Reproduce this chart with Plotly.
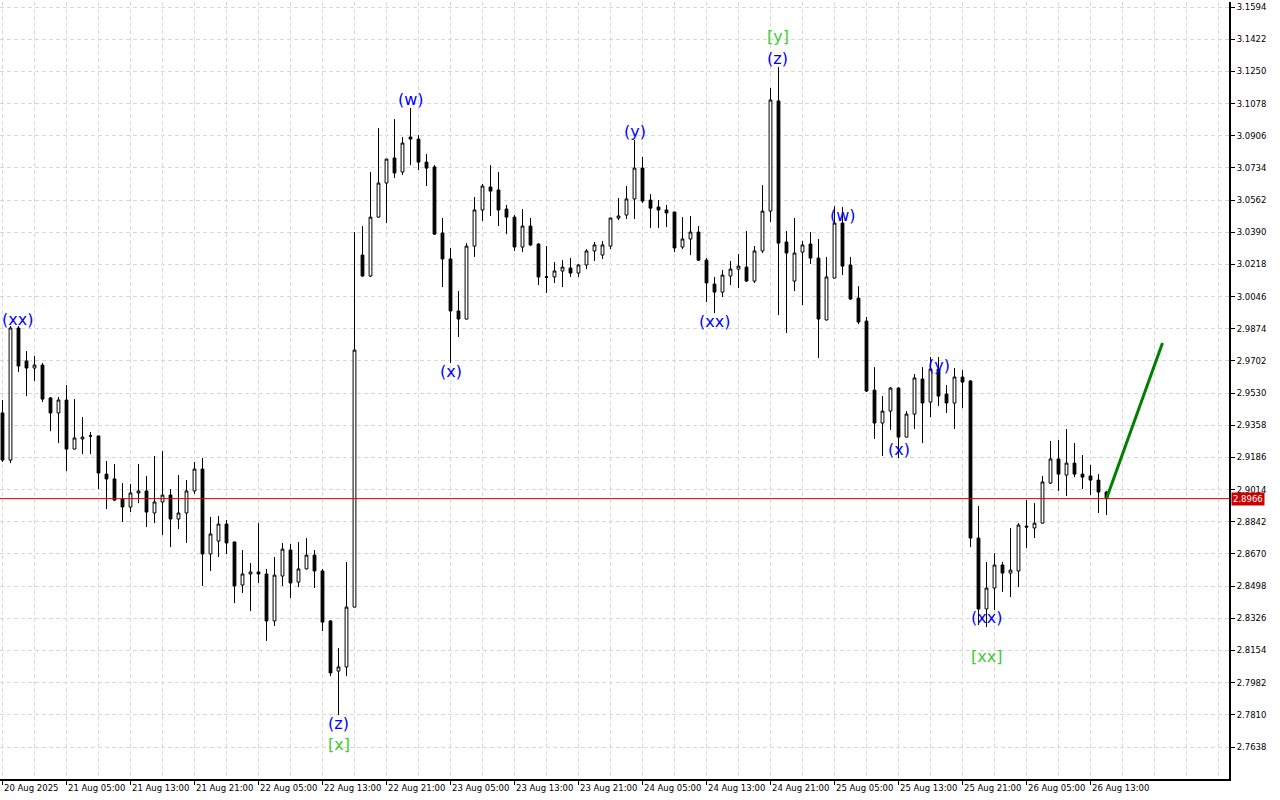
import plotly.graph_objects as go
import pandas as pd

opens = [2.9424, 2.9172, 2.9878, 2.9702, 2.9664, 2.9680, 2.9504, 2.9424, 2.9493, 2.9231,
         2.9285, 2.9300, 2.9301, 2.9097, 2.9071, 2.8964, 2.8921, 2.8996, 2.9007, 2.8889,
         2.8948, 2.8985, 2.8857, 2.8889, 2.9007, 2.9124, 2.8670, 2.8739, 2.8830, 2.8734,
         2.8504, 2.8563, 2.8574, 2.8563, 2.8312, 2.8552, 2.8691, 2.8520, 2.8590, 2.8664,
         2.8579, 2.8312, 2.8044, 2.8066, 2.8386, 3.0268, 3.0156, 3.0471, 3.0653, 3.0787,
         3.0712, 3.0899, 3.0888, 3.0765, 3.0739, 3.0386, 3.0247, 2.9969, 2.9926, 3.0316,
         3.0509, 3.0632, 3.0616, 3.0514, 3.0471, 3.0311, 3.0423, 3.0327, 3.0152, 3.0151,
         3.0183, 3.0199, 3.0172, 3.0215, 3.0290, 3.0268, 3.0316, 3.0466, 3.0482, 3.0568,
         3.0733, 3.0562, 3.0525, 3.0509, 3.0498, 3.0311, 3.0354, 3.0391, 3.0241, 3.0113,
         3.0070, 3.0156, 3.0193, 3.0204, 3.0129, 3.0290, 3.0503, 3.1092, 3.0338, 3.0129,
         3.0284, 3.0327, 3.0252, 2.9921, 3.0145, 3.0439, 3.0215, 3.0038, 2.9915, 2.9546,
         2.9370, 2.9434, 2.9557, 2.9295, 2.9418, 2.9605, 2.9482, 2.9659, 2.9525, 2.9477,
         2.9616, 2.9595, 2.8755, 2.8376, 2.8488, 2.8611, 2.8568, 2.8579, 2.8819, 2.8809,
         2.8835, 2.9049, 2.9178, 2.9092, 2.9156, 2.9097, 2.9087, 2.9065, 2.9001]

highs = [2.9493, 2.9889, 2.9889, 2.9755, 2.9728, 2.9691, 2.9509, 2.9509, 2.9573, 2.9498,
         2.9402, 2.9322, 2.9302, 2.9167, 2.9151, 2.9049, 2.9044, 2.9151, 2.9087, 2.9194,
         2.9220, 2.9017, 2.9092, 2.9065, 2.9162, 2.9183, 2.8868, 2.8873, 2.8852, 2.8736,
         2.8691, 2.8622, 2.8835, 2.8590, 2.8654, 2.8729, 2.8723, 2.8734, 2.8755, 2.8691,
         2.8590, 2.8317, 2.8167, 2.8627, 3.0391, 3.0423, 3.0712, 3.0947, 3.0783, 3.0995,
         3.0899, 3.1054, 3.0910, 3.0808, 3.0749, 3.0466, 3.0306, 3.0076, 3.0332, 3.0578,
         3.0648, 3.0749, 3.0712, 3.0536, 3.0482, 3.0514, 3.0466, 3.0332, 3.0316, 3.0231,
         3.0241, 3.0252, 3.0220, 3.0300, 3.0338, 3.0343, 3.0468, 3.0573, 3.0637, 3.0883,
         3.0792, 3.0594, 3.0562, 3.0536, 3.0500, 3.0471, 3.0477, 3.0423, 3.0252, 3.0151,
         3.0188, 3.0236, 3.0274, 3.0397, 3.0316, 3.0642, 3.1161, 3.1273, 3.0397, 3.0466,
         3.0343, 3.0391, 3.0354, 3.0258, 3.0530, 3.0525, 3.0258, 3.0102, 2.9937, 2.9669,
         2.9514, 2.9563, 2.9563, 2.9434, 2.9632, 2.9669, 2.9723, 2.9723, 2.9573, 2.9664,
         2.9653, 2.9600, 2.8926, 2.8627, 2.8675, 2.8627, 2.8809, 2.8835, 2.8958, 2.8942,
         2.9087, 2.9274, 2.9279, 2.9338, 2.9263, 2.9199, 2.9146, 2.9097, 2.9007]

lows = [2.9162, 2.9156, 2.9643, 2.9514, 2.9595, 2.9482, 2.9327, 2.9263, 2.9113, 2.9229,
        2.9204, 2.9204, 2.9017, 2.8910, 2.8953, 2.8841, 2.8894, 2.8942, 2.8814, 2.8835,
        2.8771, 2.8707, 2.8803, 2.8729, 2.8991, 2.8499, 2.8579, 2.8654, 2.8670, 2.8408,
        2.8461, 2.8365, 2.8515, 2.8205, 2.8285, 2.8499, 2.8435, 2.8493, 2.8588, 2.8488,
        2.8258, 2.8017, 2.7809, 2.8017, 2.8384, 3.0151, 3.0151, 3.0469, 3.0439, 3.0680,
        3.0696, 3.0749, 3.0723, 3.0637, 3.0378, 3.0097, 2.9691, 2.9830, 2.9924, 3.0258,
        3.0450, 3.0477, 3.0423, 3.0380, 3.0290, 3.0284, 3.0316, 3.0108, 3.0065, 3.0119,
        3.0097, 3.0151, 3.0151, 3.0193, 3.0236, 3.0247, 3.0300, 3.0455, 3.0461, 3.0461,
        3.0546, 3.0413, 3.0413, 3.0418, 3.0284, 3.0300, 3.0268, 3.0236, 3.0017, 2.9958,
        3.0044, 3.0108, 3.0092, 3.0124, 3.0119, 3.0279, 3.0445, 2.9947, 2.9851, 3.0076,
        3.0001, 3.0220, 2.9718, 2.9919, 3.0143, 3.0161, 3.0028, 2.9899, 2.9536, 2.9285,
        2.9194, 2.9333, 2.9183, 2.9293, 2.9338, 2.9263, 2.9402, 2.9461, 2.9424, 2.9338,
        2.9450, 2.8707, 2.8290, 2.8279, 2.8370, 2.8467, 2.8440, 2.8493, 2.8702, 2.8755,
        2.8833, 2.9044, 2.9007, 2.8980, 2.9081, 2.9017, 2.8985, 2.8889, 2.8878]

closes = [2.9172, 2.9878, 2.9675, 2.9664, 2.9680, 2.9498, 2.9424, 2.9493, 2.9231, 2.9290,
          2.9295, 2.9302, 2.9103, 2.9071, 2.8958, 2.8921, 2.8996, 2.9007, 2.8894, 2.8948,
          2.8985, 2.8857, 2.8889, 2.9007, 2.9124, 2.8670, 2.8777, 2.8830, 2.8729, 2.8499,
          2.8563, 2.8574, 2.8563, 2.8312, 2.8557, 2.8696, 2.8515, 2.8590, 2.8664, 2.8579,
          2.8306, 2.8034, 2.8066, 2.8386, 2.9760, 3.0156, 3.0471, 3.0653, 3.0781, 3.0707,
          3.0867, 3.0888, 3.0765, 3.0733, 3.0380, 3.0247, 2.9969, 2.9926, 3.0316, 3.0509,
          3.0637, 3.0610, 3.0509, 3.0471, 3.0311, 3.0423, 3.0322, 3.0151, 3.0150, 3.0183,
          3.0204, 3.0172, 3.0215, 3.0290, 3.0322, 3.0322, 3.0466, 3.0477, 3.0568, 3.0733,
          3.0557, 3.0519, 3.0509, 3.0493, 3.0306, 3.0354, 3.0391, 3.0241, 3.0119, 3.0070,
          3.0161, 3.0193, 3.0209, 3.0129, 3.0290, 3.0503, 3.1097, 3.0332, 3.0279, 3.0279,
          3.0322, 3.0252, 2.9926, 3.0151, 3.0439, 3.0209, 3.0033, 2.9910, 2.9541, 2.9370,
          2.9434, 2.9557, 2.9295, 2.9418, 2.9611, 2.9477, 2.9659, 2.9514, 2.9477, 2.9616,
          2.9589, 2.8755, 2.8376, 2.8488, 2.8611, 2.8568, 2.8584, 2.8825, 2.8814, 2.8835,
          2.9055, 2.9178, 2.9097, 2.9156, 2.9097, 2.9081, 2.9065, 2.9001, 2.8966]

assert len(opens) == len(highs) == len(lows) == len(closes) == 139

start_time = pd.Timestamp("2025-08-20 21:00")
times = [start_time + pd.Timedelta(hours=i) for i in range(len(opens))]
bars = list(range(len(opens)))

x_tick_bars = list(range(0, 137, 8))
x_tick_labels = ["20 Aug 2025", "21 Aug 05:00", "21 Aug 13:00", "21 Aug 21:00",
                 "22 Aug 05:00", "22 Aug 13:00", "22 Aug 21:00", "23 Aug 05:00",
                 "23 Aug 13:00", "23 Aug 21:00", "24 Aug 05:00", "24 Aug 13:00",
                 "24 Aug 21:00", "25 Aug 05:00", "25 Aug 13:00", "25 Aug 21:00",
                 "26 Aug 05:00", "26 Aug 13:00"]

y_tick_labels = ["2.7638", "2.7810", "2.7982", "2.8154", "2.8326", "2.8498", "2.8670",
                 "2.8842", "2.9014", "2.9186", "2.9358", "2.9530", "2.9702", "2.9874",
                 "3.0046", "3.0218", "3.0390", "3.0562", "3.0734", "3.0906", "3.1078",
                 "3.1250", "3.1422", "3.1594"]
y_tick_values = [float(t) for t in y_tick_labels]

current_price = 2.8966
projection_bars = [138, 145]
projection_prices = [2.8966, 2.9798]

# wave labels: text, bar position, price position, colour group
wave_texts = ["(xx)", "(z)", "[x]", "(w)", "(x)", "(y)", "(xx)", "[y]", "(z)",
              "(w)", "(x)", "(y)", "(xx)", "[xx]"]
wave_bars = [1.9, 42.0, 42.0, 51.0, 56.0, 79.0, 89.0, 96.9, 96.9,
             105.0, 112.0, 117.0, 123.0, 123.0]
wave_prices = [2.9921, 2.7766, 2.7649, 3.1102, 2.9643, 3.0931, 2.9915, 3.1434, 3.1321,
               3.0482, 2.9231, 2.9680, 2.8328, 2.8124]
wave_groups = ["minor", "minor", "major", "minor", "minor", "minor", "minor", "major", "minor",
               "minor", "minor", "minor", "minor", "major"]
group_colors = {"minor": "#0000ff", "major": "#3ccc32"}

GRID = "#d8d8d8"
DASH = "4px,3px"
TICK_FONT = dict(family="DejaVu Sans", size=8.5, color="#000000")

fig = go.Figure()

fig.add_trace(go.Candlestick(
    x=bars, open=opens, high=highs, low=lows, close=closes,
    customdata=[t.strftime("%d %b %H:%M") for t in times],
    increasing=dict(line=dict(color="#000000", width=1), fillcolor="#ffffff"),
    decreasing=dict(line=dict(color="#000000", width=1), fillcolor="#000000"),
    whiskerwidth=0, showlegend=False,
))

fig.add_trace(go.Scatter(
    x=projection_bars, y=projection_prices, mode="lines",
    line=dict(color="#008000", width=3), showlegend=False, hoverinfo="skip",
))

fig.add_shape(type="line", xref="paper", x0=0, x1=1, yref="y",
              y0=current_price, y1=current_price,
              line=dict(color="#dd0000", width=1), layer="above")

for txt, b, p, g in zip(wave_texts, wave_bars, wave_prices, wave_groups):
    fig.add_annotation(x=b, y=p, text=txt, showarrow=False,
                       xanchor="center", yanchor="middle",
                       font=dict(family="DejaVu Sans", size=16, color=group_colors[g]))

fig.add_annotation(xref="paper", x=1, y=current_price, text=f"{current_price:.4f}",
                   showarrow=False, xanchor="left", yanchor="middle", xshift=2,
                   bgcolor="#cc0000", borderpad=1,
                   font=dict(family="DejaVu Sans", size=8.5, color="#ffffff"))

y_bottom = 2.7467
y_top = 3.1621

fig.update_layout(
    width=1280, height=800,
    margin=dict(l=0, r=51, t=2, b=21, autoexpand=False),
    paper_bgcolor="#ffffff", plot_bgcolor="#ffffff",
    boxgap=0.5,
    showlegend=False,
    xaxis=dict(
        range=[-0.3125, 153.3125],
        tickmode="array", tickvals=x_tick_bars, ticktext=x_tick_labels,
        ticklabelposition="outside right", tickangle=0,
        ticks="outside", ticklen=4, tickcolor="#000000",
        tickfont=TICK_FONT, automargin=False,
        showgrid=True, gridcolor=GRID, griddash=DASH, gridwidth=1,
        minor=dict(tickmode="linear", tick0=0, dtick=4, showgrid=True,
                   gridcolor=GRID, griddash=DASH, ticks=""),
        showline=True, linecolor="#000000", linewidth=2,
        zeroline=False, rangeslider=dict(visible=False), fixedrange=True,
    ),
    yaxis=dict(
        side="right", range=[y_bottom, y_top],
        tickmode="array", tickvals=y_tick_values, ticktext=y_tick_labels,
        ticks="outside", ticklen=4, tickcolor="#000000",
        tickfont=TICK_FONT, automargin=False,
        showgrid=True, gridcolor=GRID, griddash=DASH, gridwidth=1,
        showline=True, linecolor="#000000", linewidth=2,
        zeroline=False, fixedrange=True,
    ),
)

fig.write_html("out.html", config={"displayModeBar": False},
               post_script="document.body.style.margin='0';")
